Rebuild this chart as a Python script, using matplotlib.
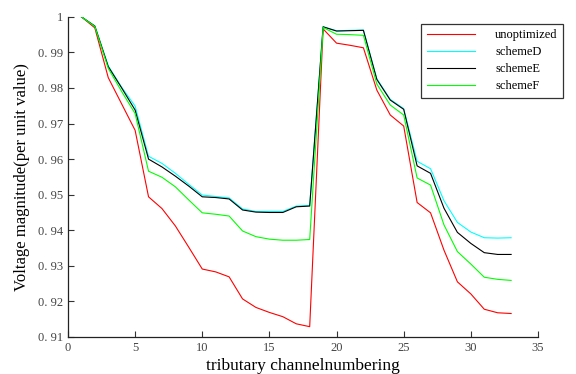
import matplotlib
matplotlib.use("Agg")
import matplotlib.pyplot as plt
import numpy as np

# channel index 1..33
channels = list(range(1, 34))

unoptimized = [1.0, 0.9969, 0.9829, 0.9755, 0.9681, 0.9494, 0.9461, 0.9412, 0.9352, 0.9291,
               0.9283, 0.9269, 0.9207, 0.9183, 0.9169, 0.9157, 0.9137, 0.9129, 0.9966, 0.9926,
               0.9920, 0.9913, 0.9794, 0.9724, 0.9693, 0.9478, 0.9449, 0.9344, 0.9255, 0.9221,
               0.9178, 0.9168, 0.9166]
schemeD = [1.0, 0.9974, 0.9862, 0.9802, 0.9749, 0.9608, 0.9588, 0.9560, 0.9529, 0.9499,
           0.9495, 0.9491, 0.9460, 0.9453, 0.9453, 0.9453, 0.9468, 0.9470, 0.9972, 0.9961,
           0.9962, 0.9963, 0.9826, 0.9768, 0.9742, 0.9594, 0.9573, 0.9483, 0.9422, 0.9395,
           0.9379, 0.9378, 0.9379]
schemeE = [1.0, 0.9974, 0.9860, 0.9800, 0.9738, 0.9600, 0.9578, 0.9552, 0.9524, 0.9494,
           0.9492, 0.9488, 0.9457, 0.9451, 0.9450, 0.9450, 0.9466, 0.9468, 0.9972, 0.9960,
           0.9961, 0.9962, 0.9824, 0.9766, 0.9740, 0.9581, 0.9560, 0.9462, 0.9394, 0.9363,
           0.9337, 0.9332, 0.9332]
schemeF = [1.0, 0.9973, 0.9855, 0.9790, 0.9728, 0.9566, 0.9549, 0.9522, 0.9485, 0.9449,
           0.9445, 0.9440, 0.9398, 0.9382, 0.9375, 0.9372, 0.9372, 0.9374, 0.9970, 0.9951,
           0.9950, 0.9948, 0.9811, 0.9752, 0.9724, 0.9547, 0.9527, 0.9415, 0.9340, 0.9305,
           0.9268, 0.9262, 0.9259]

xticks = [0, 5, 10, 15, 20, 25, 30, 35]
yticks = [0.91, 0.92, 0.93, 0.94, 0.95, 0.96, 0.97, 0.98, 0.99, 1.0]
ytick_labels = ["0. 91", "0. 92", "0. 93", "0. 94", "0. 95", "0. 96", "0. 97", "0. 98", "0. 99", "1"]

plt.rcParams['font.family'] = ['Liberation Serif', 'DejaVu Serif']

fig = plt.figure(figsize=(5.76, 3.74), dpi=100)
ax = fig.add_axes([0.118, 0.099, 0.816, 0.856])

ax.plot(channels, unoptimized, color='#ff0000', lw=0.8, label='unoptimized')
ax.plot(channels, schemeD, color='#00ffff', lw=0.8, label='schemeD')
ax.plot(channels, schemeE, color='black', lw=0.8, label='schemeE')
ax.plot(channels, schemeF, color='#00ff00', lw=0.8, label='schemeF')

ax.set_xlim(0, 35)
ax.set_ylim(0.91, 1.0)
ax.set_xticks(xticks)
ax.set_yticks(yticks)
ax.set_yticklabels(ytick_labels)

ax.spines['top'].set_visible(False)
ax.spines['right'].set_visible(False)
for s in ['left', 'bottom']:
    ax.spines[s].set_color('#222222')
    ax.spines[s].set_linewidth(0.9)
ax.tick_params(direction='in', length=4, width=0.8, colors='#333333',
               labelsize=9, labelcolor='#444444')

ax.set_xlabel('tributary channelnumbering', fontsize=12.5, labelpad=3)
ax.set_ylabel('Voltage magnitude(per unit value)', fontsize=12, labelpad=6)

leg = ax.legend(loc='upper left', bbox_to_anchor=(0.751, 0.978), borderaxespad=0,
                fontsize=9, frameon=True, fancybox=False, handlelength=3.9,
                handletextpad=1.6, labelspacing=0.4, borderpad=0.45)
leg.get_frame().set_edgecolor('black')
leg.get_frame().set_linewidth(0.9)

fig.savefig('out.png', dpi=100)
